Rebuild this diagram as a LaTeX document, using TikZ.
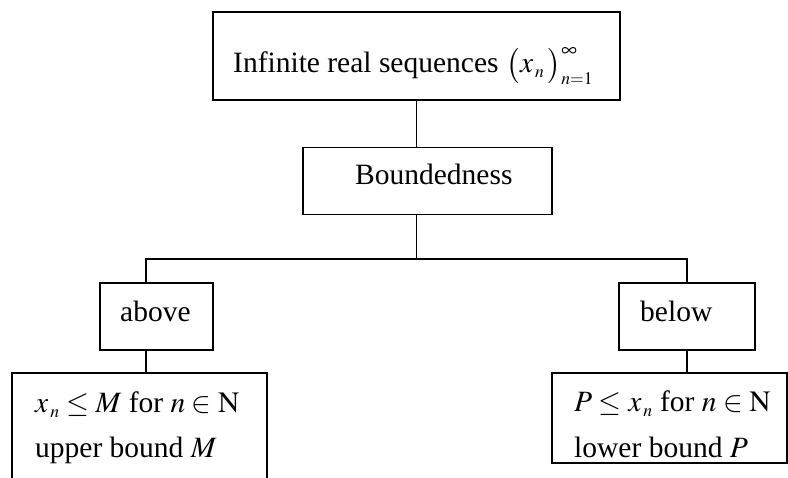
\documentclass[tikz,border=0pt]{standalone}
\usepackage{mathptmx}
\usepackage{fontspec}
\setmainfont{Liberation Serif}
\begin{document}
\begin{tikzpicture}[x=1pt,y=-1pt,
  box/.style={draw, line width=1.6pt, rectangle, inner sep=0pt},
  txt/.style={inner sep=0pt, anchor=base west, font=\fontsize{29.5}{44}\selectfont},
  conn/.style={line width=1.6pt}]
\useasboundingbox (0,0) rectangle (788,478);
\clip (0,0) rectangle (788,478);
% boxes
\node[box, minimum width=407pt, minimum height=88pt] (top) at (416.5,56) {};
\node[box, minimum width=249pt, minimum height=67pt] (bnd) at (427.5,181) {};
\node[box, minimum width=113pt, minimum height=67pt] (above) at (156.5,316.5) {};
\node[box, minimum width=136pt, minimum height=67pt] (below) at (687,316.5) {};
\node[box, minimum width=255pt, minimum height=127pt] (lbox) at (139.5,436.5) {};
\node[box, minimum width=235pt, minimum height=90pt] (rbox) at (669.5,418) {};
% texts
\node[txt] (t1) at (233,73) {Infinite real sequences\hspace{8pt}$\bigl(x_{\scriptscriptstyle \,n}\,\bigr)_{\scriptscriptstyle n=1}^{\scriptstyle\infty}$};
\node[txt] (t2) at (355,185) {Boundedness};
\node[txt] (t3) at (120,322) {above};
\node[txt] (t4) at (640,322) {below};
\node[txt] (t5) at (35,413) {$x_{\scriptscriptstyle \,n} \le M$ for $n \in \mathrm{N}$};
\node[txt] (t6) at (35,458) {upper bound $M$};
\node[txt] (t7) at (574,412) {$P \le x_{\scriptscriptstyle \,n}$ for $n \in \mathrm{N}$};
\node[txt] (t8) at (574,458) {lower bound $P$};
% connectors
\coordinate (mid) at (416.5,259);
\coordinate (lx) at (146,259);
\coordinate (rx) at (687,259);
\draw[conn] (top.south) -- (top.south |- bnd.north);
\draw[conn] (top.south |- bnd.south) -- (mid);
\draw[conn] (lx |- above.north) -- (lx) -- (rx) -- (below.north);
\draw[conn] (lx |- above.south) -- (lx |- lbox.north);
\draw[conn] (below.south) -- (below.south |- rbox.north);
\end{tikzpicture}
\end{document}
